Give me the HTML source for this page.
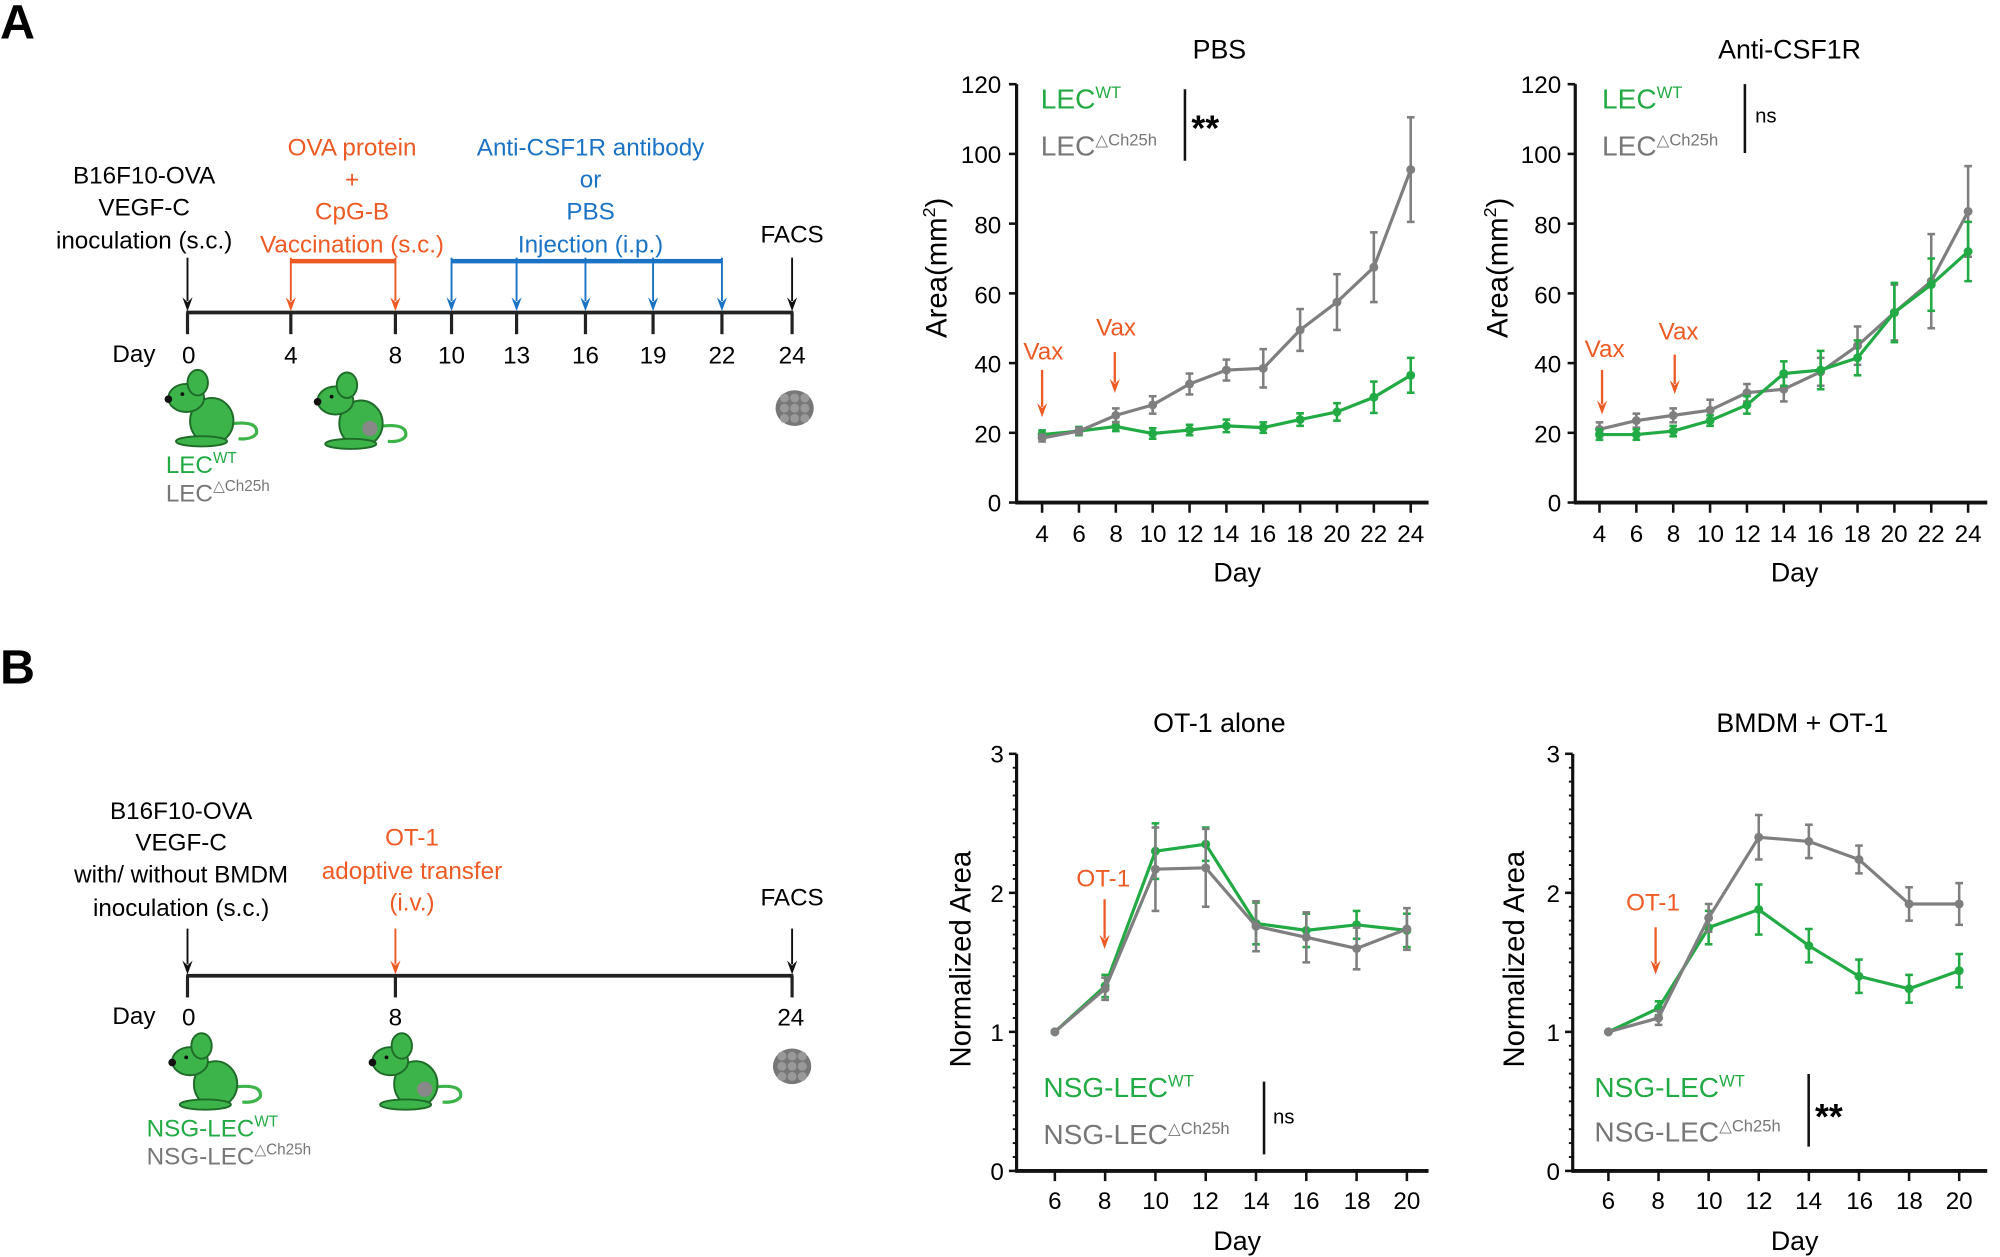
<!DOCTYPE html>
<html><head><meta charset="utf-8"><style>
html,body{margin:0;padding:0;background:#fff}
svg{display:block}
text{font-family:"Liberation Sans",sans-serif}
</style></head><body>
<svg id="s" width="2000" height="1257" viewBox="0 0 1568 985.5" preserveAspectRatio="none" xmlns="http://www.w3.org/2000/svg">
<text x="0" y="30" font-size="38" font-weight="bold">A</text>
<text x="0" y="536" font-size="38" font-weight="bold">B</text>

<g font-size="19" text-anchor="middle">
<text x="113" y="144">B16F10-OVA</text>
<text x="113" y="169">VEGF-C</text>
<text x="113" y="195">inoculation (s.c.)</text>
<g fill="#ee5a24"><text x="276" y="122">OVA protein</text><text x="276" y="147">+</text><text x="276" y="172">CpG-B</text><text x="276" y="198">Vaccination (s.c.)</text></g>
<g fill="#1a73c4"><text x="463" y="122">Anti-CSF1R antibody</text><text x="463" y="147">or</text><text x="463" y="172">PBS</text><text x="463" y="198">Injection (i.p.)</text></g>
<text x="621" y="190">FACS</text>
<text x="105" y="284">Day</text>
<text x="148" y="285">0</text><text x="228" y="285">4</text><text x="310" y="285">8</text><text x="354" y="285">10</text><text x="405" y="285">13</text><text x="459" y="285">16</text><text x="512" y="285">19</text><text x="566" y="285">22</text><text x="621" y="285">24</text>
</g>
<rect x="228" y="203" width="82" height="3.5" fill="#ee5a24"/>
<rect x="354" y="203" width="212" height="3.5" fill="#1a73c4"/>
<line x1="146" y1="245" x2="622" y2="245" stroke="#222" stroke-width="3"/>
<g id="tlA"></g>

<g id="mice"></g>
<text x="130" y="371" font-size="19" fill="#22aa44">LEC<tspan font-size="12" dy="-8">WT</tspan></text>
<text x="130" y="393" font-size="19" fill="#777">LEC<tspan font-size="12" dy="-8">△Ch25h</tspan></text>

<g font-size="19" text-anchor="middle">
<text x="142" y="642">B16F10-OVA</text>
<text x="142" y="667">VEGF-C</text>
<text x="142" y="692">with/ without BMDM</text>
<text x="142" y="718">inoculation (s.c.)</text>
<g fill="#ee5a24"><text x="323" y="663">OT-1</text><text x="323" y="689">adoptive transfer</text><text x="323" y="714">(i.v.)</text></g>
<text x="621" y="710">FACS</text>
<text x="105" y="803">Day</text>
<text x="148" y="804">0</text><text x="310" y="804">8</text><text x="620" y="804">24</text>
</g>
<line x1="146" y1="765" x2="622" y2="765" stroke="#222" stroke-width="3"/>
<text x="115" y="891" font-size="19" fill="#22aa44">NSG-LEC<tspan font-size="12" dy="-8">WT</tspan></text>
<text x="115" y="913" font-size="19" fill="#777">NSG-LEC<tspan font-size="12" dy="-8">△Ch25h</tspan></text>

<g font-size="21" text-anchor="middle">
<text x="956" y="46">PBS</text>
<text x="1403" y="46">Anti-CSF1R</text>
<text x="956" y="574">OT-1 alone</text>
<text x="1413" y="574">BMDM + OT-1</text>
<text x="970" y="456">Day</text><text x="1407" y="456">Day</text>
<text x="970" y="980">Day</text><text x="1407" y="980">Day</text>
</g>
<g font-size="23" text-anchor="middle">
<text transform="translate(742,210) rotate(-90)">Area(mm<tspan font-size="14" dy="-9">2</tspan><tspan dy="9">)</tspan></text>
<text transform="translate(1182,210) rotate(-90)">Area(mm<tspan font-size="14" dy="-9">2</tspan><tspan dy="9">)</tspan></text>
<text transform="translate(761,752) rotate(-90)">Normalized Area</text>
<text transform="translate(1195,752) rotate(-90)">Normalized Area</text>
</g>
<g font-size="19" text-anchor="end">
<text x="785" y="73">120</text><text x="785" y="128">100</text><text x="785" y="183">80</text><text x="785" y="238">60</text><text x="785" y="292">40</text><text x="785" y="347">20</text><text x="785" y="401">0</text>
<text x="1224" y="73">120</text><text x="1224" y="128">100</text><text x="1224" y="183">80</text><text x="1224" y="238">60</text><text x="1224" y="292">40</text><text x="1224" y="347">20</text><text x="1224" y="401">0</text>
<text x="787" y="598">3</text><text x="787" y="707">2</text><text x="787" y="816">1</text><text x="787" y="925">0</text>
<text x="1223" y="598">3</text><text x="1223" y="707">2</text><text x="1223" y="816">1</text><text x="1223" y="925">0</text>
</g>
<g font-size="19" text-anchor="middle">
<text x="817" y="425">4</text><text x="846" y="425">6</text><text x="875" y="425">8</text><text x="904" y="425">10</text><text x="933" y="425">12</text><text x="961" y="425">14</text><text x="990" y="425">16</text><text x="1019" y="425">18</text><text x="1048" y="425">20</text><text x="1077" y="425">22</text><text x="1106" y="425">24</text>
<text x="1254" y="425">4</text><text x="1283" y="425">6</text><text x="1312" y="425">8</text><text x="1341" y="425">10</text><text x="1370" y="425">12</text><text x="1398" y="425">14</text><text x="1427" y="425">16</text><text x="1456" y="425">18</text><text x="1485" y="425">20</text><text x="1514" y="425">22</text><text x="1543" y="425">24</text>
<text x="827" y="948">6</text><text x="866" y="948">8</text><text x="906" y="948">10</text><text x="945" y="948">12</text><text x="985" y="948">14</text><text x="1024" y="948">16</text><text x="1064" y="948">18</text><text x="1103" y="948">20</text>
<text x="1261" y="948">6</text><text x="1300" y="948">8</text><text x="1340" y="948">10</text><text x="1379" y="948">12</text><text x="1418" y="948">14</text><text x="1458" y="948">16</text><text x="1497" y="948">18</text><text x="1536" y="948">20</text>
</g>
<text x="816" y="85" font-size="22" fill="#22aa44">LEC<tspan font-size="13" dy="-8">WT</tspan></text>
<text x="816" y="122" font-size="22" fill="#777">LEC<tspan font-size="13" dy="-8">△Ch25h</tspan></text>
<line x1="929" y1="70" x2="929" y2="126" stroke="#111" stroke-width="2"/>
<text x="934" y="110" font-size="28" font-weight="bold">**</text>
<text x="1256" y="85" font-size="22" fill="#22aa44">LEC<tspan font-size="13" dy="-8">WT</tspan></text>
<text x="1256" y="122" font-size="22" fill="#777">LEC<tspan font-size="13" dy="-8">△Ch25h</tspan></text>
<line x1="1368" y1="66" x2="1368" y2="120" stroke="#111" stroke-width="2"/>
<text x="1376" y="96" font-size="16">ns</text>
<text x="818" y="860" font-size="22" fill="#22aa44">NSG-LEC<tspan font-size="13" dy="-8">WT</tspan></text>
<text x="818" y="897" font-size="22" fill="#777">NSG-LEC<tspan font-size="13" dy="-8">△Ch25h</tspan></text>
<line x1="991" y1="848" x2="991" y2="905" stroke="#111" stroke-width="2"/>
<text x="998" y="881" font-size="16">ns</text>
<text x="1250" y="860" font-size="22" fill="#22aa44">NSG-LEC<tspan font-size="13" dy="-8">WT</tspan></text>
<text x="1250" y="895" font-size="22" fill="#777">NSG-LEC<tspan font-size="13" dy="-8">△Ch25h</tspan></text>
<line x1="1418" y1="842" x2="1418" y2="899" stroke="#111" stroke-width="2"/>
<text x="1423" y="885" font-size="28" font-weight="bold">**</text>
<g font-size="19" fill="#ee5a24" text-anchor="middle">
<text x="818" y="282">Vax</text><text x="875" y="263">Vax</text>
<text x="1258" y="280">Vax</text><text x="1316" y="266">Vax</text>
<text x="865" y="695">OT-1</text><text x="1296" y="714">OT-1</text>
</g>
<g id="charts"></g>
</svg>
<script>
var NS="http://www.w3.org/2000/svg";
function el(p,t,a){var e=document.createElementNS(NS,t);for(var k in a)e.setAttribute(k,a[k]);p.appendChild(e);return e;}
var tl=document.getElementById('tlA');
function arrow(g,x,y1,y2,c,w){el(g,'line',{x1:x,y1:y1,x2:x,y2:y2-8,stroke:c,'stroke-width':w||1.5});el(g,'path',{d:'M'+(x-4)+','+(y2-11)+' L'+x+','+y2+' L'+(x+4)+','+(y2-11)+' L'+x+','+(y2-7)+'Z',fill:c});}
[[147,'#111'],[228,'#ee5a24'],[310,'#ee5a24'],[354,'#1a73c4'],[405,'#1a73c4'],[459,'#1a73c4'],[512,'#1a73c4'],[566,'#1a73c4'],[621,'#111']].forEach(function(a){
 el(tl,'line',{x1:a[0],y1:245,x2:a[0],y2:262,stroke:'#222','stroke-width':2.5});arrow(tl,a[0],202,244,a[1]);});
[147,310,621].forEach(function(x){el(tl,'line',{x1:x,y1:765,x2:x,y2:782,stroke:'#222','stroke-width':2.5});});
arrow(tl,147,728,764,'#111');arrow(tl,310,728,764,'#ee5a24');arrow(tl,621,728,764,'#111');
var m=document.getElementById('mice');
function mouse(cx,cy,tumor){var g=el(m,'g',{transform:'translate('+cx+','+cy+')'});
 el(g,'path',{d:'M25,12 q20,-2 18,8 q-4,5 -14,4',fill:'none',stroke:'#3cb44a','stroke-width':2.5});
 el(g,'ellipse',{cx:8,cy:10,rx:17,ry:18,fill:'#3cb44a',stroke:'#1f6b28','stroke-width':1.5});
 el(g,'ellipse',{cx:-12,cy:-8,rx:14,ry:11,fill:'#3cb44a',stroke:'#1f6b28','stroke-width':1.5});
 el(g,'ellipse',{cx:-3,cy:-20,rx:8,ry:10,fill:'#3cb44a',stroke:'#1f6b28','stroke-width':1.5});
 el(g,'ellipse',{cx:0,cy:26,rx:20,ry:4,fill:'#3cb44a',stroke:'#1f6b28','stroke-width':1.5});
 el(g,'circle',{cx:-26,cy:-7,r:3,fill:'#111'});el(g,'circle',{cx:-15,cy:-11,r:1.5,fill:'#111'});
 if(tumor)el(g,'circle',{cx:15,cy:14,r:6,fill:'#888'});}
mouse(158,320,false);mouse(275,322,true);mouse(161,840,false);mouse(318,840,true);
function tum(x,y){el(m,'ellipse',{cx:x,cy:y,rx:15,ry:14,fill:'#777'});for(var i=0;i<9;i++)el(m,'circle',{cx:x-8+(i%3)*8,cy:y-8+Math.floor(i/3)*8,r:3.5,fill:'#999'});}
tum(623,320);tum(621,836);
var C=document.getElementById('charts');
function chart(o){var g=el(C,'g',{});
 el(g,'line',{x1:o.ax,y1:o.y0,x2:o.ax,y2:o.y1,stroke:'#111','stroke-width':2.5});
 el(g,'line',{x1:o.ax-1,y1:o.y0,x2:o.xr,y2:o.y0,stroke:'#111','stroke-width':3});
 o.yt.forEach(function(v){var y=o.y0-(o.y0-o.y1)*v/o.ymax;el(g,'line',{x1:o.ax-6,y1:y,x2:o.ax,y2:y,stroke:'#111','stroke-width':2});});
 if(o.minor)for(var v=0;v<=o.ymax;v+=o.minor){var y=o.y0-(o.y0-o.y1)*v/o.ymax;el(g,'line',{x1:o.ax-3,y1:y,x2:o.ax,y2:y,stroke:'#111','stroke-width':1.5});}
 o.xs.forEach(function(x){el(g,'line',{x1:x,y1:o.y0,x2:x,y2:o.y0+8,stroke:'#111','stroke-width':2});});
 function Y(v){return o.y0-(o.y0-o.y1)*v/o.ymax;}
 o.series.forEach(function(s){var pts=s.v.map(function(v,i){return o.xs[i]+','+Y(v);}).join(' ');
  s.e.forEach(function(e,i){if(!e)return;var x=o.xs[i];el(g,'line',{x1:x,y1:Y(s.v[i]-e),x2:x,y2:Y(s.v[i]+e),stroke:s.c,'stroke-width':2});
   el(g,'line',{x1:x-3,y1:Y(s.v[i]-e),x2:x+3,y2:Y(s.v[i]-e),stroke:s.c,'stroke-width':2});el(g,'line',{x1:x-3,y1:Y(s.v[i]+e),x2:x+3,y2:Y(s.v[i]+e),stroke:s.c,'stroke-width':2});});
  el(g,'polyline',{points:pts,fill:'none',stroke:s.c,'stroke-width':2.5});
  s.v.forEach(function(v,i){el(g,'circle',{cx:o.xs[i],cy:Y(v),r:3.5,fill:s.c});});});
 (o.arr||[]).forEach(function(a){arrow(g,a[0],a[1],a[2],'#ee5a24',1.8);});}
function xs(a,b,n){var r=[];for(var i=0;i<n;i++)r.push(a+(b-a)*i/(n-1));return r;}
var G='#22aa44',R='#7f7f7f';
chart({ax:797,y0:394,y1:66,xr:1120,ymax:120,yt:[0,20,40,60,80,100,120],xs:xs(817,1106,11),
 series:[{c:G,v:[19.5,20.5,21.8,19.8,20.8,22,21.5,23.8,26,30.2,36.5],e:[1.2,1.2,1.3,1.5,1.5,1.8,1.5,1.8,2.5,4.5,5]},
 {c:R,v:[18.5,20.5,25,28,34,38,38.5,49.5,57.5,67.5,95.5],e:[1,1,2,2.5,3,3,5.5,6,8,10,15]}],arr:[[817,290,327],[874,276,308]]});
chart({ax:1235,y0:394,y1:66,xr:1558,ymax:120,yt:[0,20,40,60,80,100,120],xs:xs(1254,1543,11),
 series:[{c:R,v:[21,23.5,25,26.5,31.5,32.5,37.5,45,54.5,63.5,83.5],e:[2,2,2,3,2.5,3.5,4,5.5,8,13.5,13]},
 {c:G,v:[19.5,19.5,20.5,23.5,28,37,38,41.5,54.5,62.5,72],e:[1.5,1.5,1.5,1.5,2.5,3.5,5.5,5,8.5,7.5,8.5]}],arr:[[1256,290,325],[1313,278,309]]});
chart({ax:797,y0:918,y1:591,xr:1120,ymax:3,yt:[0,1,2,3],minor:0.1,xs:xs(827,1103,8),
 series:[{c:G,v:[1,1.33,2.3,2.35,1.78,1.73,1.77,1.73],e:[0,.08,.2,.12,.15,.12,.1,.12]},
 {c:R,v:[1,1.31,2.17,2.18,1.76,1.68,1.6,1.74],e:[0,.08,.3,.28,.18,.18,.15,.15]}],arr:[[866,705,744]]});
chart({ax:1233,y0:918,y1:591,xr:1558,ymax:3,yt:[0,1,2,3],minor:0.1,xs:xs(1261,1536,8),
 series:[{c:G,v:[1,1.17,1.75,1.88,1.62,1.4,1.31,1.44],e:[0,.05,.12,.18,.12,.12,.1,.12]},
 {c:R,v:[1,1.1,1.82,2.4,2.37,2.24,1.92,1.92],e:[0,.05,.1,.16,.12,.1,.12,.15]}],arr:[[1298,727,764]]});
</script>
</body></html>
